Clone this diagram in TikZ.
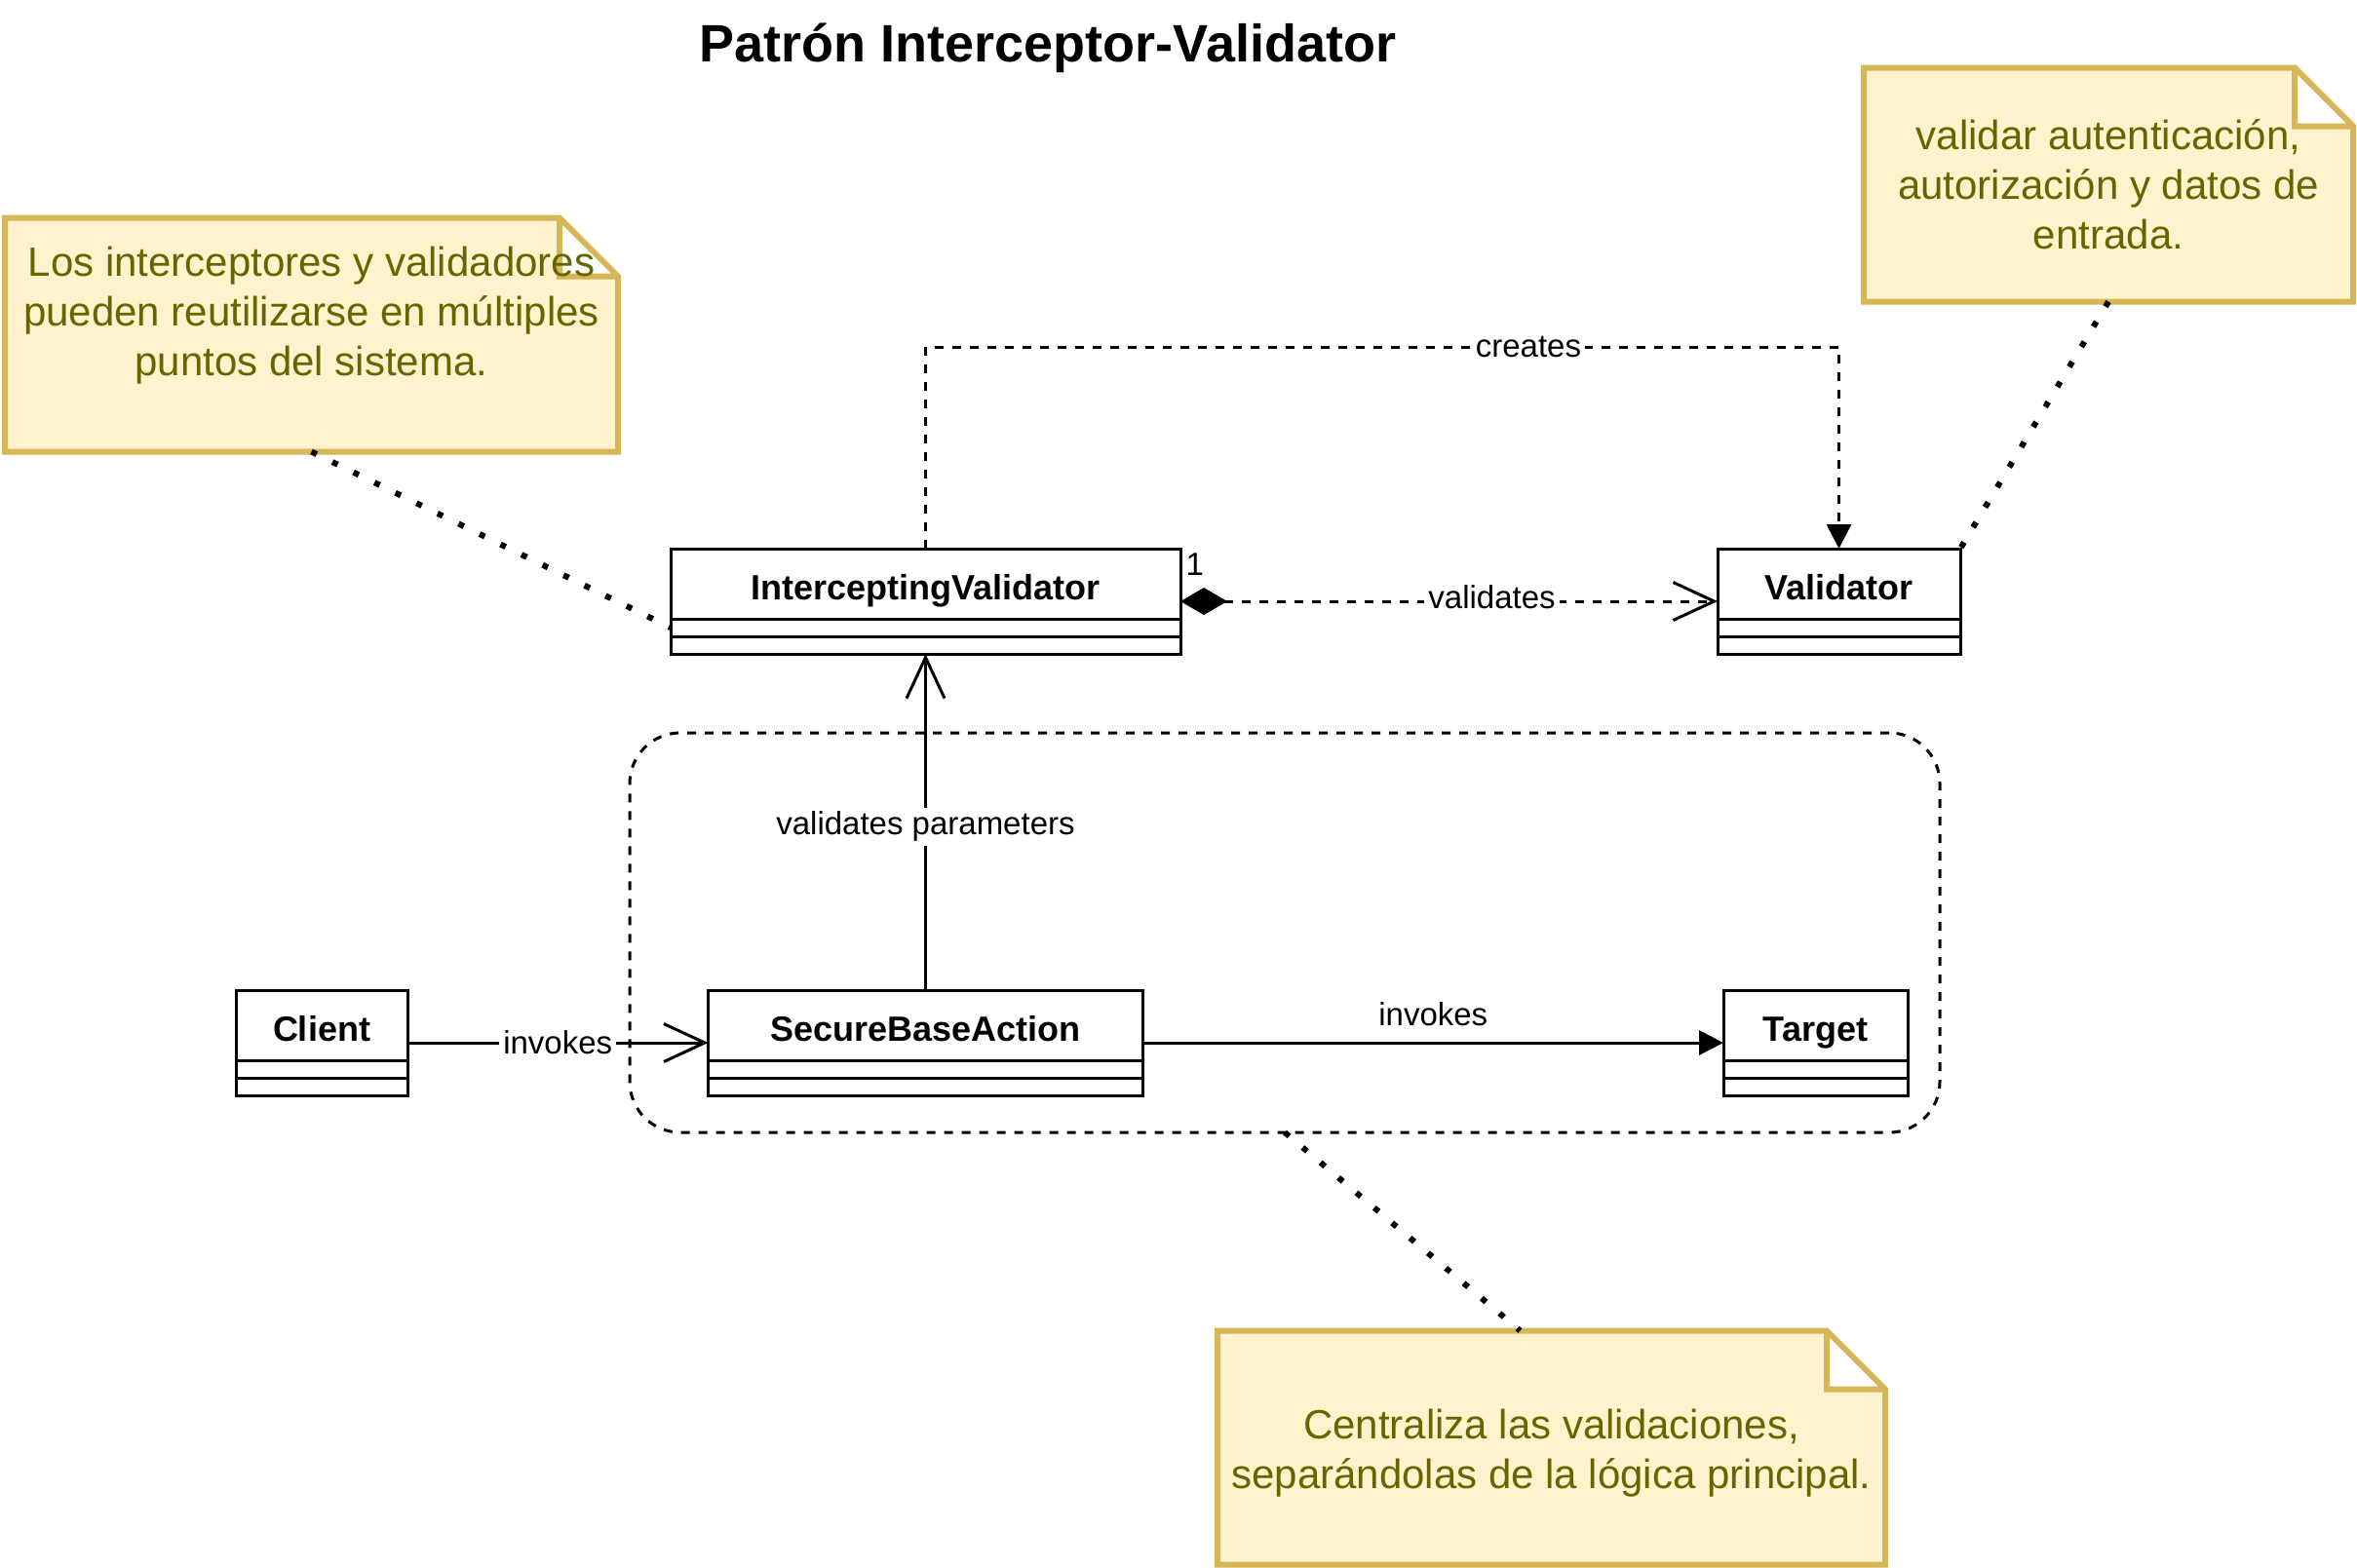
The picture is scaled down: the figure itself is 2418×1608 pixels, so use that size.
\documentclass[tikz,border=0pt]{standalone}
\usepackage{fontspec}
\setmainfont{Liberation Sans}
\usetikzlibrary{arrows.meta}
\usetikzlibrary{positioning,backgrounds}
\definecolor{notefill}{HTML}{FFF2CC}
\definecolor{noteline}{HTML}{D6B656}
\definecolor{notetext}{HTML}{666600}

\begin{document}
\begin{tikzpicture}[x=0.25pt, y=-0.25pt, line width=0.75pt,
  cls/.style={draw, fill=white, minimum height=27pt, inner sep=0pt, outer sep=0pt},
  clsname/.style={font=\fontsize{9}{10.8}\selectfont\bfseries, text height=6.6pt, text depth=1.9pt, inner sep=0pt},
  note/.style={inner sep=0pt, outer sep=0pt, minimum height=60pt},
  notetxt/.style={text=notetext, align=center, inner sep=0pt, font=\fontsize{10.5}{12.75}\selectfont},
  lbl/.style={font=\fontsize{8.25}{9.9}\selectfont, inner sep=1pt},
  dep/.style={dash pattern=on 2.25pt off 2.25pt},
  link/.style={line width=1.5pt, dash pattern=on 1.5pt off 4.5pt},
  openarrow/.style={-{Straight Barb[length=10.5pt, width=9.75pt]}},
  blockarrow/.style={-{Triangle[length=6.25pt, width=6.25pt]}}]
\useasboundingbox (0,0) rectangle (2418,1608);

\node[font=\fontsize{13.5}{16}\selectfont\bfseries] (title) at (1075,49) {Patrón Interceptor-Validator};

% dashed group round the action
\node[draw, dep, rounded corners=13pt, minimum width=336pt, minimum height=102.5pt, outer sep=0pt] (grp) at (1318,957) {};

% classes: name / x / y / width / label
\foreach \cls/\cx/\cy/\cw/\ct in {iv/949.5/617/523/InterceptingValidator, val/1886.5/617/249/Validator, cl/330/1070/176/Client, sba/949.5/1070/446/SecureBaseAction, tg/1862.5/1070/189/Target}{
  \node[cls, minimum width=\cw*0.25pt] (\cls) at (\cx,\cy) {};
  \node[clsname] (\cls-name) at ([yshift=-10.75pt]\cls.north) {\ct};
  \path (\cls.north west) ++(0,72) coordinate (\cls-d1) ++(0,9) coordinate (\cls-attr) ++(0,9) coordinate (\cls-d2);
  \draw (\cls-d1) -- (\cls-d1 -| \cls.east) (\cls-d2) -- (\cls-d2 -| \cls.east);
}

% notes
\node[note, minimum width=157.25pt] (n1) at (319.5,343.5) {};
\node[note, minimum width=125.5pt] (n2) at (2163,189.5) {};
\node[note, minimum width=171.25pt] (n3) at (1591.5,1485.5) {};
\node[notetxt] (n1-text) at ([yshift=-2.25pt]n1.center) {Los interceptores y validadores\\pueden reutilizarse en múltiples\\puntos del sistema.\\\strut};
\node[notetxt] (n2-text) at (n2.center) {validar autenticación,\\autorización y datos de\\entrada.};
\node[notetxt] (n3-text) at ([yshift=-1.5pt]n3.center) {Centraliza las validaciones,\\separándolas de la lógica principal.};
\begin{scope}[on background layer]
\fill[white] (0,0) rectangle (2418,1608);
\foreach \nt in {n1,n2,n3}
  \draw[line width=1.5pt, draw=noteline, fill=notefill] (\nt.north west) -- ([xshift=-15pt]\nt.north east) -- ([yshift=-15pt]\nt.north east) -- (\nt.south east) -- (\nt.south west) -- cycle ([xshift=-15pt]\nt.north east) |- ([yshift=-15pt]\nt.north east);
\end{scope}

% connectors
\draw[dep, blockarrow] (iv.north) -- ++(0,-207) -| node[lbl, fill=white, pos=0.33] (crl) {creates} (val.north);
\draw[dep, {Diamond[length=12pt, width=7pt]}-{Straight Barb[length=10.5pt, width=9.75pt]}] (iv) -- node[lbl, fill=white, pos=0.58, yshift=1pt] (vl) {validates} (val);
\node[lbl, anchor=south west, inner sep=0pt] (mult) at ([xshift=1pt, yshift=6.25pt]iv.east) {1};
\draw[openarrow] (sba) -- node[lbl, fill=white, pos=0.486] (vpl) {validates parameters} (iv);
\draw[openarrow] (cl) -- node[lbl, fill=white] (inv1) {invokes} (sba);
\draw[blockarrow] (sba) -- node[lbl, inner sep=0pt, above=4pt] (inv2) {invokes} (tg);

% note links
\draw[link] (n1.south) -- (iv-attr);
\draw[link] (n2.south) -- (val.north east);
\draw[link] (grp.south) -- ([xshift=-8pt]n3.north);
\end{tikzpicture}
\end{document}
